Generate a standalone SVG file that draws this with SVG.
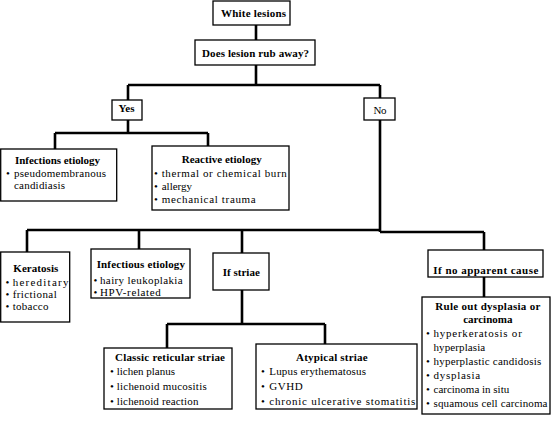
<svg xmlns="http://www.w3.org/2000/svg" width="560" height="421" viewBox="0 0 560 421">
<style>
.box{fill:#fff;stroke:#000;stroke-width:1.3}
.con{fill:none;stroke:#000;stroke-width:2.6}
text{font-family:"Liberation Serif","Times New Roman",serif;font-size:11px;fill:#000}
.t{font-weight:bold}
.m{text-anchor:middle}
</style>
<rect width="560" height="421" fill="#fff"/>
<g id="connectors">
<path class="con" d="M256,25V40M256,65V85M128,85H380M128,85V100M380,85V98"/>
<path class="con" d="M128,120V133M55,133H208M55,133V149M208,133V146"/>
<path class="con" d="M380,120V232M27,230H381M380,232H484M27,230V252M139,230V249M242,230V253M484,232V250M484,277V297"/>
<path class="con" d="M242,290V324M167,324H325M167,324V348M325,324V344"/>
</g>
<g id="white-lesions"><rect class="box" x="213" y="1" width="77" height="24"/><text class="t" x="221" y="16.5" textLength="65" lengthAdjust="spacing">White lesions</text></g>
<g id="rub-away"><rect class="box" x="195" y="40" width="120" height="25"/><text class="t" x="202" y="57" textLength="107" lengthAdjust="spacing">Does lesion rub away?</text></g>
<g id="yes"><rect class="box" x="112" y="100" width="30" height="20"/><text class="t m" x="126.5" y="112">Yes</text></g>
<g id="no"><rect class="box" x="364" y="98" width="31" height="22"/><text x="373.5" y="114" textLength="13" lengthAdjust="spacing">No</text></g>
<g id="infections-etiology"><rect class="box" x="0.7" y="149" width="116" height="52"/>
<text class="t" x="15" y="164" textLength="85" lengthAdjust="spacing">Infections etiology</text>
<text x="6" y="177">•</text><text x="14" y="177" textLength="92" lengthAdjust="spacing">pseudomembranous</text>
<text x="14" y="189" textLength="51" lengthAdjust="spacing">candidiasis</text></g>
<g id="reactive-etiology"><rect class="box" x="152" y="146" width="137" height="64"/>
<text class="t" x="181.7" y="163" textLength="80" lengthAdjust="spacing">Reactive etiology</text>
<text x="154" y="177">•</text><text x="161.7" y="177" textLength="125" lengthAdjust="spacing">thermal or chemical burn</text>
<text x="154" y="190">•</text><text x="161.7" y="190">allergy</text>
<text x="154" y="203">•</text><text x="161.7" y="203" textLength="94" lengthAdjust="spacing">mechanical trauma</text></g>
<g id="keratosis"><rect class="box" x="0.7" y="252" width="69" height="70"/>
<text class="t" x="13.3" y="272" textLength="45" lengthAdjust="spacing">Keratosis</text>
<text x="5.5" y="285.5">•</text><text x="12.7" y="285.5" textLength="55.7" lengthAdjust="spacing">hereditary</text>
<text x="5.5" y="297.5">•</text><text x="12.7" y="297.5" textLength="44" lengthAdjust="spacing">frictional</text>
<text x="5.5" y="310">•</text><text x="12.7" y="310" textLength="35.7" lengthAdjust="spacing">tobacco</text></g>
<g id="infectious-etiology"><rect class="box" x="91" y="249" width="99" height="49"/>
<text class="t" x="96.7" y="268" textLength="88.3" lengthAdjust="spacing">Infectious etiology</text>
<text x="93.5" y="284">•</text><text x="100" y="284" textLength="82.7" lengthAdjust="spacing">hairy leukoplakia</text>
<text x="93.5" y="296">•</text><text x="100" y="296" textLength="60.7" lengthAdjust="spacing">HPV-related</text></g>
<g id="if-striae"><rect class="box" x="213" y="253" width="56" height="37"/><text class="t m" x="241.3" y="276">If striae</text></g>
<g id="no-apparent-cause"><rect class="box" x="428" y="250" width="115" height="27"/><text class="t" x="433.3" y="274" textLength="105" lengthAdjust="spacing">If no apparent cause</text></g>
<g id="rule-out"><rect class="box" x="422" y="297" width="128" height="117"/>
<text class="t" x="435.3" y="310" textLength="105" lengthAdjust="spacing">Rule out dysplasia or</text>
<text class="t m" x="487.8" y="323">carcinoma</text>
<text x="426" y="337">•</text><text x="433.5" y="337" textLength="88.3" lengthAdjust="spacing">hyperkeratosis or</text>
<text x="433.5" y="351" textLength="51.7" lengthAdjust="spacing">hyperplasia</text>
<text x="426" y="365">•</text><text x="433.5" y="365" textLength="107.7" lengthAdjust="spacing">hyperplastic candidosis</text>
<text x="426" y="379">•</text><text x="433.5" y="379" textLength="46.7" lengthAdjust="spacing">dysplasia</text>
<text x="426" y="393">•</text><text x="433.5" y="393" textLength="75.7" lengthAdjust="spacing">carcinoma in situ</text>
<text x="426" y="407">•</text><text x="433.5" y="407" textLength="114" lengthAdjust="spacing">squamous cell carcinoma</text></g>
<g id="classic-reticular"><rect class="box" x="104" y="348" width="128" height="61"/>
<text class="t" x="115" y="361" textLength="110" lengthAdjust="spacing">Classic reticular striae</text>
<text x="110" y="375">•</text><text x="116.7" y="375">lichen planus</text>
<text x="110" y="390">•</text><text x="116.7" y="390" textLength="90" lengthAdjust="spacing">lichenoid mucositis</text>
<text x="110" y="405">•</text><text x="116.7" y="405" textLength="81.7" lengthAdjust="spacing">lichenoid reaction</text></g>
<g id="atypical-striae"><rect class="box" x="256" y="344" width="161" height="65"/>
<text class="t" x="296" y="361" textLength="71.7" lengthAdjust="spacing">Atypical striae</text>
<text x="261" y="375">•</text><text x="269.3" y="375" textLength="96.7" lengthAdjust="spacing">Lupus erythematosus</text>
<text x="261" y="390">•</text><text x="269.3" y="390" textLength="33.3" lengthAdjust="spacing">GVHD</text>
<text x="261" y="405">•</text><text x="269.3" y="405" textLength="146" lengthAdjust="spacing">chronic ulcerative stomatitis</text></g>
</svg>
